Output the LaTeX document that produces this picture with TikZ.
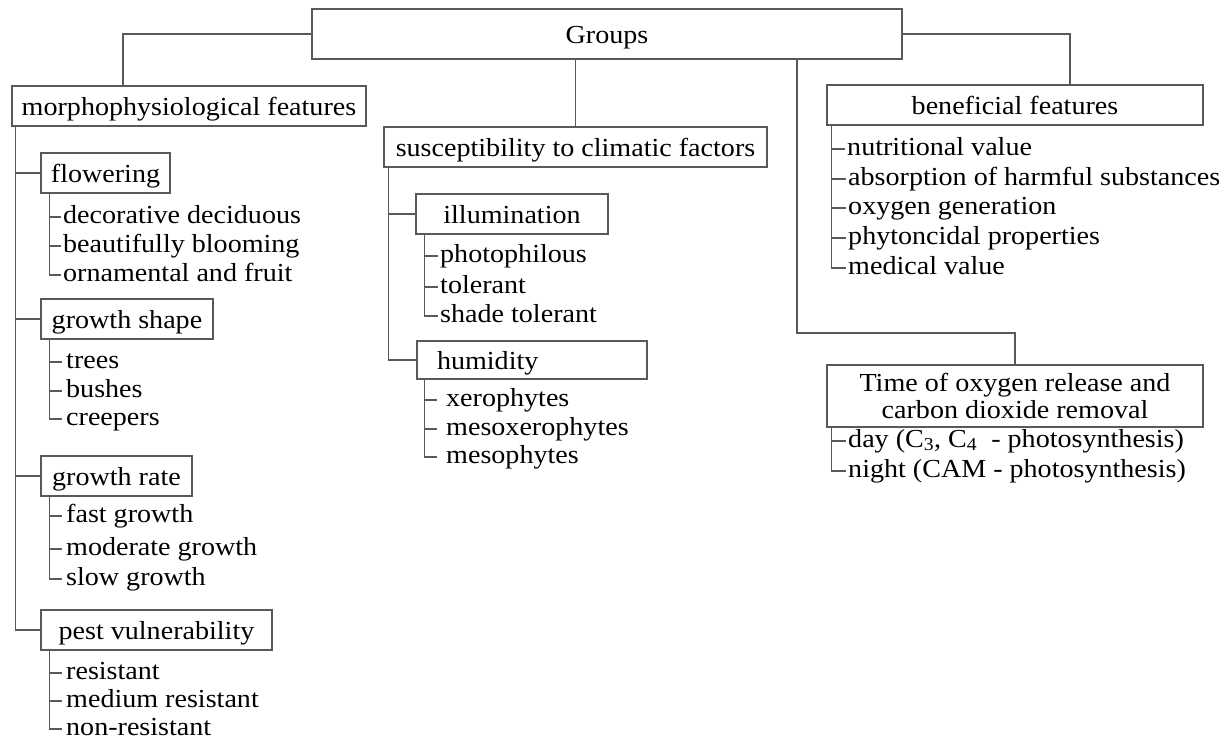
\documentclass[tikz,border=0pt]{standalone}
\usepackage{fontspec}
\setmainfont[FakeStretch=1.08]{Liberation Serif}
\tikzset{
    BX/.style ={rectangle, draw=black!65, line width=1.1pt, minimum height=40pt, inner sep=0pt,
        text height=22pt, text depth=4pt, font=\fontsize{26}{27}\selectfont},
    LI/.style ={anchor=base west, inner ysep=0pt, inner xsep=2pt,
        text height=18pt, text depth=6pt, font=\fontsize{26}{27}\selectfont},
    LN/.style ={draw=black!65, line width=1.1pt}}
\begin{document}
\begin{tikzpicture}[x=1pt,y=-1pt]
    \useasboundingbox (0,0) rectangle (1231,740);
    \node[BX,minimum width=590pt,minimum height=50pt](grp) at(607,34){Groups};
    \node[BX,minimum width=354pt](morph) at(189,106){morphophysiological features};
    \node[BX,minimum width=383pt](susc) at(575.5,147){susceptibility to climatic factors};
    \node[BX,minimum width=376pt](ben) at(1015,105){beneficial features};
    \node[BX,minimum width=376pt,minimum height=62pt,align=center,text height={},text depth={}](time)
        at(1015,396){Time of oxygen release and\\carbon dioxide removal};
    \node[BX,minimum width=129pt](flow) at(105.5,173){flowering};
    \node[BX,minimum width=172pt](gshape) at(127,319){growth shape};
    \node[BX,minimum width=151pt](grate) at(116.5,476){growth rate};
    \node[BX,minimum width=231pt](pest) at(156.5,630){pest vulnerability};
    \node[BX,minimum width=192pt](illum) at(512,214){illumination};
    \node[BX,minimum width=230pt,minimum height=38pt,text width=190pt,align=left](humid)
        at(532,360){humidity};
    \node[LI](f1) at(61,223){decorative deciduous};
    \node[LI](f2) at(61,252){beautifully blooming};
    \node[LI](f3) at(61,281){ornamental and fruit};
    \node[LI,inner xsep=4pt](s1) at(62,368){trees};
    \node[LI,inner xsep=4pt](s2) at(62,397){bushes};
    \node[LI,inner xsep=4pt](s3) at(62,425){creepers};
    \node[LI,inner xsep=4pt](r1) at(62,522){fast growth};
    \node[LI,inner xsep=4pt](r2) at(62,555){moderate growth};
    \node[LI,inner xsep=4pt](r3) at(62,585){slow growth};
    \node[LI,inner xsep=4pt](p1) at(62,679){resistant};
    \node[LI,inner xsep=4pt](p2) at(62,707){medium resistant};
    \node[LI,inner xsep=4pt](p3) at(62,735){non-resistant};
    \node[LI](i1) at(438,262){photophilous};
    \node[LI](i2) at(438,293){tolerant};
    \node[LI](i3) at(438,322){shade tolerant};
    \node[LI,inner xsep=9pt](h1) at(437,406){xerophytes};
    \node[LI,inner xsep=9pt](h2) at(437,435){mesoxerophytes};
    \node[LI,inner xsep=9pt](h3) at(437,463){mesophytes};
    \node[LI](b1) at(845,155){nutritional value};
    \node[LI](b2) at(846,185){absorption of harmful substances};
    \node[LI](b3) at(846,214){oxygen generation};
    \node[LI](b4) at(846,244){phytoncidal properties};
    \node[LI](b5) at(846,274){medical value};
    \node[LI](t1) at(846,447){day (C\textsubscript{3}, C\textsubscript{4}\ \ - photosynthesis)};
    \node[LI](t2) at(846,477){night (CAM - photosynthesis)};
    \coordinate(tb) at(797,333);
    \coordinate(mt) at([xshift=4pt]morph.south west);
    \coordinate(st) at([xshift=5pt]susc.south west);
    \coordinate(fb) at([xshift=9pt]flow.south west);
    \coordinate(sb) at([xshift=9pt]gshape.south west);
    \coordinate(rb) at([xshift=9pt]grate.south west);
    \coordinate(pb) at([xshift=9pt]pest.south west);
    \coordinate(ib) at([xshift=9pt]illum.south west);
    \coordinate(hb) at([xshift=8pt]humid.south west);
    \coordinate(bb) at([xshift=5pt]ben.south west);
    \coordinate(tt) at([xshift=5pt]time.south west);
    \draw[LN] (grp.west) -| ([xshift=-66pt]morph.north);
    \draw[LN] (grp.east) -| ([xshift=55pt]ben.north);
    \draw[LN] (susc.north) -- (susc.north |- grp.south);
    \draw[LN] (grp.south -| tb) -- (tb) -| (time.north);
    \draw[LN] (mt) |- (pest.west) (flow.west) -- (flow.west -| mt)
        (gshape.west) -- (gshape.west -| mt) (grate.west) -- (grate.west -| mt);
    \draw[LN] (st) |- (humid.west) (illum.west) -- (illum.west -| st);
    \draw[LN] (fb) |- (f3.west) (f1.west -| fb) -- (f1.west) (f2.west -| fb) -- (f2.west);
    \draw[LN] (sb) |- (s3.west) (s1.west -| sb) -- (s1.west) (s2.west -| sb) -- (s2.west);
    \draw[LN] (rb) |- (r3.west) (r1.west -| rb) -- (r1.west) (r2.west -| rb) -- (r2.west);
    \draw[LN] (pb) |- (p3.west) (p1.west -| pb) -- (p1.west) (p2.west -| pb) -- (p2.west);
    \draw[LN] (ib) |- (i3.west) (i1.west -| ib) -- (i1.west) (i2.west -| ib) -- (i2.west);
    \draw[LN] (hb) |- (h3.west) (h1.west -| hb) -- (h1.west) (h2.west -| hb) -- (h2.west);
    \draw[LN] (bb) |- (b5.west) (b1.west -| bb) -- (b1.west) (b2.west -| bb) -- (b2.west)
        (b3.west -| bb) -- (b3.west) (b4.west -| bb) -- (b4.west);
    \draw[LN] (tt) |- (t2.west) (t1.west -| tt) -- (t1.west);
\end{tikzpicture}
\end{document}
